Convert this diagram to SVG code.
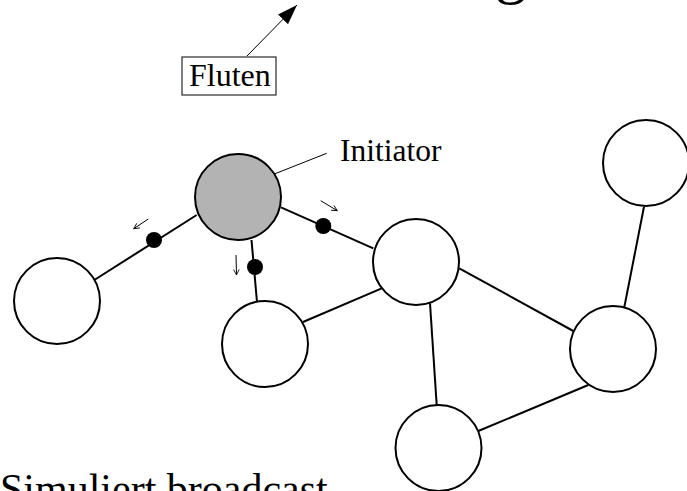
<svg xmlns="http://www.w3.org/2000/svg" width="687" height="491" viewBox="0 0 687 491">
<defs>
<style>
.t{font-family:"Liberation Serif","Times New Roman",serif;fill:#000}
.node{fill:#fff;stroke:#000;stroke-width:2}
.init{fill:#b3b3b3;stroke:#000;stroke-width:2}
.edge{stroke:#000;stroke-width:2;fill:none}
.thin{stroke:#000;stroke-width:1;fill:none}
.msg{fill:#000}
</style>
<marker id="open" viewBox="0 0 10 10" refX="9" refY="5" markerWidth="7" markerHeight="7" markerUnits="userSpaceOnUse" orient="auto">
<path d="M1,1 L9,5 L1,9" fill="none" stroke="#000" stroke-width="1.2"/>
</marker>
<marker id="solid" viewBox="0 0 20 14" refX="20" refY="7" markerWidth="20" markerHeight="14" markerUnits="userSpaceOnUse" orient="auto">
<path d="M0,0 L20,7 L0,14 Z" fill="#000"/>
</marker>
</defs>
<text class="t" x="495" y="-9" font-size="64">g</text>
<g id="fluten">
<rect x="182" y="57" width="94" height="38" fill="#fff" stroke="#000" stroke-width="1"/>
<text class="t" x="189" y="86" font-size="32">Fluten</text>
</g>
<g id="connectors">
<line class="thin" x1="247" y1="56" x2="297" y2="5" marker-end="url(#solid)"/>
<line class="edge" x1="196.7" y1="215" x2="94.3" y2="280"/>
<line class="edge" x1="251.5" y1="240" x2="257" y2="302"/>
<line class="edge" x1="281" y1="207.3" x2="373.3" y2="248.3"/>
<line class="edge" x1="303" y1="322" x2="381.7" y2="288.3"/>
<line class="edge" x1="459.3" y1="268.3" x2="573.3" y2="331"/>
<line class="edge" x1="430" y1="303.3" x2="436.7" y2="405"/>
<line class="edge" x1="478.3" y1="431" x2="588.3" y2="385"/>
<line class="edge" x1="624.3" y1="307.3" x2="644" y2="206.7"/>
<line class="thin" x1="261.7" y1="179" x2="326.7" y2="153.3"/>
<line class="thin" x1="148.3" y1="219" x2="133.7" y2="228.7" marker-end="url(#open)"/>
<line class="thin" x1="236" y1="255" x2="236.5" y2="275" marker-end="url(#open)"/>
<line class="thin" x1="320.7" y1="200.7" x2="337.3" y2="210.7" marker-end="url(#open)"/>
<circle class="msg" cx="154" cy="240" r="8"/>
<circle class="msg" cx="255" cy="267" r="8"/>
<circle class="msg" cx="323.3" cy="226" r="8"/>
</g>
<g id="n-initiator"><circle class="init" cx="238" cy="197" r="43"/></g>
<g id="n-left"><circle class="node" cx="57" cy="301" r="43"/></g>
<g id="n-mid"><circle class="node" cx="265" cy="344" r="43"/></g>
<g id="n-center"><circle class="node" cx="416" cy="262" r="43"/></g>
<g id="n-right"><circle class="node" cx="613" cy="349" r="43"/></g>
<g id="n-bottom"><circle class="node" cx="438.5" cy="448" r="43"/></g>
<g id="n-topright"><circle class="node" cx="646" cy="163" r="43"/></g>
<text class="t" x="340" y="160.5" font-size="31.5">Initiator</text>
<text class="t" x="0" y="503" font-size="42">Simuliert broadcast</text>
</svg>
